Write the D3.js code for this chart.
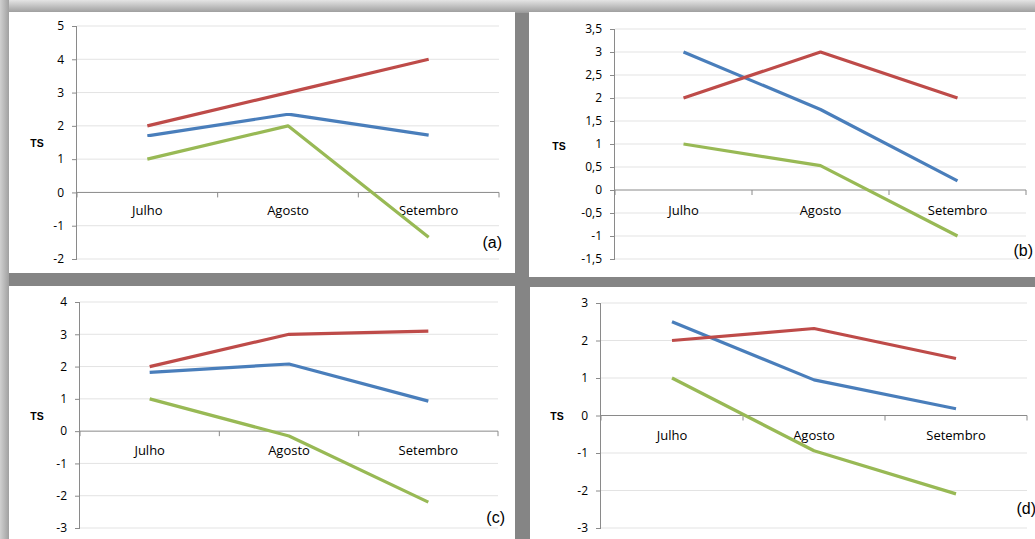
<!DOCTYPE html>
<html><head><meta charset="utf-8">
<script src="https://cdn.jsdelivr.net/npm/d3@7"></script>
<style>
html,body{margin:0;padding:0;background:#8a8a8a;}
svg{display:block;}
</style></head>
<body>
<svg id="chart" width="1035" height="539"></svg>
<script>
// ---- data ----
const months = ["Julho", "Agosto", "Setembro"];
const seriesNames = ["blue", "red", "green"];

const aBlue  = [1.7, 2.35, 1.72];
const aRed   = [2, 3, 4];
const aGreen = [1, 2, -1.35];
const aTicks = [-2, -1, 0, 1, 2, 3, 4, 5];

const bBlue  = [3, 1.75, 0.2];
const bRed   = [2, 3, 2];
const bGreen = [1, 0.53, -1];
const bTicks = [-1.5, -1, -0.5, 0, 0.5, 1, 1.5, 2, 2.5, 3, 3.5];

const cBlue  = [1.82, 2.08, 0.93];
const cRed   = [2, 3, 3.1];
const cGreen = [1, -0.15, -2.2];
const cTicks = [-3, -2, -1, 0, 1, 2, 3, 4];

const dBlue  = [2.5, 0.95, 0.18];
const dRed   = [2, 2.32, 1.52];
const dGreen = [1, -0.94, -2.09];
const dTicks = [-3, -2, -1, 0, 1, 2, 3];

const panelLabels = ["(a)", "(b)", "(c)", "(d)"];
const yTitle = "TS";

// ---- layout / style ----
const colors = {blue: "#4A7EBB", red: "#BE4B48", green: "#98B954"};

const panels = [
  {label: panelLabels[0], blue: aBlue, red: aRed, green: aGreen, ticks: aTicks,
   box: [9, 12, 506, 261], x0: 77, x1: 499, yTop: 26, yBot: 259, catDy: 19,
   ts: [37, 144], lab: [502, 244]},
  {label: panelLabels[1], blue: bBlue, red: bRed, green: bGreen, ticks: bTicks,
   box: [529, 12, 506, 265], x0: 615, x1: 1026, yTop: 29, yBot: 259, catDy: 22,
   ts: [559, 147], lab: [1033, 252]},
  {label: panelLabels[2], blue: cBlue, red: cRed, green: cGreen, ticks: cTicks,
   box: [9, 286, 506, 260], x0: 80, x1: 498, yTop: 302, yBot: 528, catDy: 20,
   ts: [37, 417], lab: [505, 519]},
  {label: panelLabels[3], blue: dBlue, red: dRed, green: dGreen, ticks: dTicks,
   box: [530, 287, 505, 260], x0: 601, x1: 1027, yTop: 303, yBot: 528, catDy: 21,
   ts: [557, 417], lab: [1036, 510]}
];

const svg = d3.select("#chart");
const defs = svg.append("defs");
const tg = defs.append("linearGradient").attr("id", "topg").attr("x1", 0).attr("y1", 0).attr("x2", 0).attr("y2", 1);
tg.append("stop").attr("offset", "0%").attr("stop-color", "#e4e4e4");
tg.append("stop").attr("offset", "100%").attr("stop-color", "#9a9a9a");
const lg = defs.append("linearGradient").attr("id", "leftg").attr("x1", 0).attr("y1", 0).attr("x2", 1).attr("y2", 0);
lg.append("stop").attr("offset", "0%").attr("stop-color", "#d0d0d0");
lg.append("stop").attr("offset", "100%").attr("stop-color", "#a0a0a0");
const sh = defs.append("filter").attr("id", "soft").attr("x", "-5%").attr("y", "-5%").attr("width", "110%").attr("height", "110%");
sh.append("feGaussianBlur").attr("stdDeviation", 0.4);

svg.append("rect").attr("width", 1035).attr("height", 539).attr("fill", "#858585");
svg.append("rect").attr("width", 1035).attr("height", 13).attr("fill", "url(#topg)");
svg.append("rect").attr("width", 9).attr("height", 539).attr("fill", "url(#leftg)");

const fmt = v => String(v).replace(".", ",");
const tickFont = "'Open Sans', sans-serif";

panels.forEach(p => {
  const g = svg.append("g");
  g.append("rect").attr("x", p.box[0]).attr("y", p.box[1])
    .attr("width", p.box[2]).attr("height", p.box[3]).attr("fill", "#ffffff");

  const y = d3.scaleLinear().domain([d3.min(p.ticks), d3.max(p.ticks)]).range([p.yBot, p.yTop]);
  const x = d3.scaleBand().domain(months).range([p.x0, p.x1]);

  // gridlines
  g.append("g").selectAll("line").data(p.ticks.filter(t => t !== 0)).join("line")
    .attr("x1", p.x0).attr("x2", p.x1)
    .attr("y1", d => y(d)).attr("y2", d => y(d))
    .attr("stroke", "#e3e3e3").attr("stroke-width", 1);

  // y axis
  const yAxis = d3.axisLeft(y).tickValues(p.ticks).tickFormat(fmt).tickSize(5).tickPadding(8);
  const ya = g.append("g").attr("transform", `translate(${p.x0},0)`).call(yAxis);
  ya.select(".domain").attr("stroke", "#8a8a8a").attr("d", `M-0.5,${p.yTop}V${p.yBot}`);
  ya.selectAll(".tick line").attr("stroke", "#8a8a8a");
  ya.selectAll(".tick text").attr("fill", "#000").style("font-family", tickFont).style("font-size", "12px");

  // x axis at zero
  const z = y(0);
  const xa = g.append("g").attr("transform", `translate(0,${z})`);
  xa.append("line").attr("x1", p.x0).attr("x2", p.x1).attr("stroke", "#8a8a8a");
  const bounds = months.map(m => x(m)).concat([p.x1]);
  xa.selectAll("line.tk").data(bounds).join("line").attr("class", "tk")
    .attr("x1", d => d).attr("x2", d => d).attr("y1", 0).attr("y2", 5).attr("stroke", "#8a8a8a");
  xa.selectAll("text").data(months).join("text")
    .attr("x", d => x(d) + x.bandwidth() / 2).attr("y", p.catDy)
    .attr("text-anchor", "middle").attr("dominant-baseline", "middle")
    .style("font-family", tickFont).style("font-size", "13px")
    .text(d => d);

  // lines
  const line = d3.line().x((d, i) => x(months[i]) + x.bandwidth() / 2).y(d => y(d));
  seriesNames.forEach(s => {
    g.append("path").datum(p[s]).attr("d", line)
      .attr("fill", "none").attr("stroke", colors[s]).attr("stroke-width", 3.2)
      .attr("stroke-linejoin", "round").attr("filter", "url(#soft)");
  });

  g.append("text").attr("x", p.ts[0]).attr("y", p.ts[1]).attr("text-anchor", "middle")
    .attr("dominant-baseline", "middle").style("font-family", "'Liberation Sans', Arial, sans-serif")
    .style("font-weight", "bold").style("font-size", "10.5px").text(yTitle);

  g.append("text").attr("x", p.lab[0]).attr("y", p.lab[1]).attr("text-anchor", "end")
    .attr("dominant-baseline", "middle").style("font-family", "'Liberation Sans', Arial, sans-serif")
    .style("font-size", "16px").text(p.label);
});
</script>
</body></html>
